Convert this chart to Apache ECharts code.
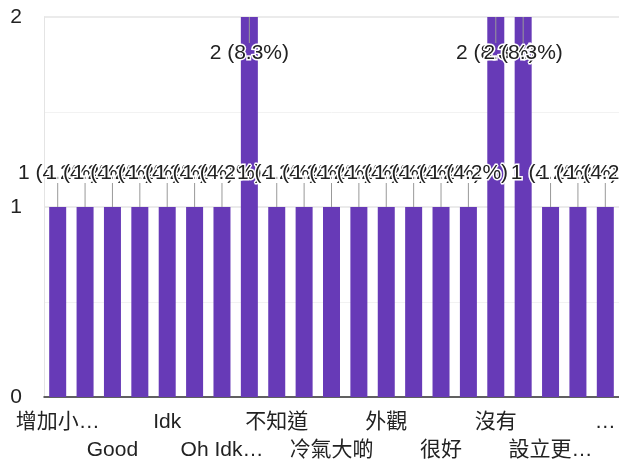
<!DOCTYPE html>
<html>
<head>
<meta charset="utf-8">
<script src="https://cdn.jsdelivr.net/npm/echarts@6/dist/echarts.min.js"></script>
<style>
html,body{margin:0;padding:0;background:#fff;}
#chart{width:619px;height:463px;}
</style>
</head>
<body>
<div id="chart"></div>
<script>
// Categories (labels not shown in the picture are placeholders)
const categories = ['增加小…','未標示 1','Good','未標示 2','Idk','未標示 3','Oh Idk…','未標示 4','不知道','未標示 5','冷氣大啲','未標示 6','外觀','未標示 7','很好','未標示 8','沒有','未標示 9','設立更…','未標示 10','…'];
const counts = [1,1,1,1,1,1,1,2,1,1,1,1,1,1,1,1,2,2,1,1,1];
const yTicks = [0,1,2];

const FONT = "'Liberation Sans', Arial, 'Noto Sans CJK TC', sans-serif";
const total = counts.reduce((a,b)=>a+b,0);
const yMax = yTicks[yTicks.length-1];
const fmt = v => v + ' (' + (v/total*100).toFixed(1) + '%)';

const barData = counts.map(v => ({
  value: v,
  label: v >= yMax
    ? {position:'insideTop', distance: 26}
    : {position:'top', distance: 23}
}));

const labelBase = {
  showMinLabel:true, showMaxLabel:true, hideOverlap:false,
  fontFamily:FONT, fontSize:21, color:'#222', margin:15
};

const chart = echarts.init(document.getElementById('chart'), null, {renderer:'canvas'});
chart.setOption({
  animation:false,
  grid:{left:44, right:0, top:17, bottom:66, containLabel:false},
  xAxis:[
    {
      type:'category',
      data:categories,
      position:'bottom',
      axisLine:{show:true, lineStyle:{color:'#333', width:1.5}},
      axisTick:{show:false},
      axisLabel:Object.assign({}, labelBase, {interval:(idx) => idx % 4 === 0}),
      splitLine:{show:false}
    },
    {
      type:'category',
      data:categories,
      position:'bottom',
      offset:28,
      axisLine:{show:false},
      axisTick:{show:false},
      axisLabel:Object.assign({}, labelBase, {interval:(idx) => idx % 4 === 2}),
      splitLine:{show:false}
    }
  ],
  yAxis:{
    type:'value', min:0, max:yMax, interval:1,
    axisLine:{show:true, lineStyle:{color:'#e4e4e4'}},
    axisTick:{show:false},
    axisLabel:{fontFamily:FONT, fontSize:21, color:'#222', margin:22},
    splitLine:{show:true, lineStyle:{color:'#e4e4e4', width:1.5}},
    minorTick:{show:false, splitNumber:2},
    minorSplitLine:{show:true, lineStyle:{color:'#f2f2f2', width:1}}
  },
  series:[
    {
      type:'bar',
      xAxisIndex:0,
      data:barData,
      barWidth:17,
      itemStyle:{color:'#673ab7'},
      z:2,
      label:{
        show:true,
        formatter:p => fmt(p.value),
        fontFamily:FONT, fontSize:21, color:'#222',
        textBorderColor:'#fff', textBorderWidth:3
      }
    },
    {
      type:'custom',
      xAxisIndex:0,
      z:3,
      silent:true,
      data:counts.map((v,i)=>[i,v]),
      renderItem:(params, api) => {
        const i = api.value(0), v = api.value(1);
        const p = api.coord([i, v]);
        let y1, y2;
        if (v >= yMax) { y1 = p[1]; y2 = p[1] + 26; }
        else { y1 = p[1] - 24; y2 = p[1]; }
        return {
          type:'line',
          shape:{x1:p[0], y1:y1, x2:p[0], y2:y2},
          style:{stroke:'#999', lineWidth:1}
        };
      }
    }
  ]
});
</script>
</body>
</html>
